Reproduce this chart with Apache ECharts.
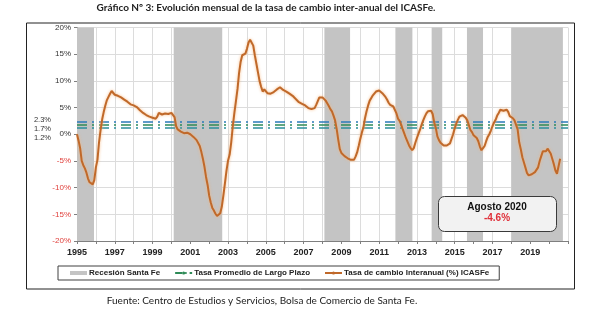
<!DOCTYPE html>
<html>
<head>
<meta charset="utf-8">
<script src="https://cdn.jsdelivr.net/npm/echarts@6/dist/echarts.min.js"></script>
<style>
html,body{margin:0;padding:0;background:#fff;}
#chart{width:592px;height:322px;}
</style>
</head>
<body>
<div id="chart"></div>
<script>
// ---- Data ----
const titleText = 'Gráfico Nº 3: Evolución mensual de la tasa de cambio inter-anual del ICASFe.';
const sourceText = 'Fuente: Centro de Estudios y Servicios, Bolsa de Comercio de Santa Fe.';
const startYear = 1995;
const endYear = 2021;
const avgLabels = ['2.3%', '1.7%', '1.2%'];
const avgRates = [2.3, 1.7, 1.2];
const recessionStart = [1995.0, 2000.12, 2008.1, 2011.86, 2013.78, 2015.65, 2018.0];
const recessionEnd   = [1995.9, 2002.69, 2009.46, 2012.76, 2014.34, 2016.5, 2020.73];
const lastLabel = 'Agosto 2020';
// Monthly inter-annual change (%), Jan 1995 .. Aug 2020
const icasfe = [
  0.0,-1.2,-2.6,-5.0,-5.8,-6.4,-7.2,-8.3,-9.0,-9.3,-9.4,-8.6,
  -6.2,-4.8,-1.5,0.8,2.8,4.2,5.4,6.4,7.0,7.6,8.1,7.8,
  7.4,7.6,7.2,7.0,6.9,7.0,6.5,6.4,6.1,6.0,5.6,5.7,
  5.4,5.5,5.1,5.0,4.5,4.2,4.0,3.9,3.6,3.3,3.3,3.1,
  3.1,2.8,2.9,3.3,4.0,3.8,3.7,3.8,3.9,3.9,3.8,3.9,
  4.0,4.0,3.2,1.5,0.9,0.6,0.5,0.4,0.2,0.1,0.3,0.4,
  0.0,-0.2,-0.5,-0.8,-1.1,-1.4,-2.2,-3.3,-4.6,-6.1,-8.0,-9.5,
  -11.5,-12.8,-13.8,-14.3,-14.9,-15.3,-15.5,-14.8,-13.6,-11.5,-9.2,-6.8,
  -4.9,-3.8,-1.5,1.5,4.0,6.2,8.5,11.5,13.6,14.8,15.0,15.1,
  16.0,17.2,17.7,17.4,16.6,14.8,13.2,11.6,10.0,8.9,8.0,8.4,
  8.5,7.7,7.5,7.6,7.7,7.9,8.1,8.4,8.7,8.8,8.8,8.3,
  8.0,8.0,7.8,7.6,7.4,7.2,6.9,6.6,6.3,6.0,5.8,5.7,
  5.6,5.4,5.1,4.9,4.8,4.7,4.8,4.9,5.5,6.2,6.9,7.2,
  6.9,6.6,6.3,5.8,5.3,4.7,4.3,3.5,2.6,1.0,-1.0,-2.8,
  -3.5,-3.8,-4.1,-4.3,-4.5,-4.7,-4.8,-4.9,-4.8,-4.2,-3.4,-2.2,
  -0.9,0.3,1.3,3.0,4.3,5.4,6.3,6.8,7.3,7.6,8.0,8.3,
  8.2,8.0,7.7,7.4,7.0,6.5,5.9,5.5,5.3,5.2,4.9,3.9,
  2.9,2.5,1.8,0.9,0.1,-0.7,-1.4,-2.1,-2.6,-3.0,-2.6,-1.6,
  -0.7,0.1,0.9,1.8,2.6,3.3,3.9,4.3,4.6,4.4,3.8,2.2,
  1.2,-0.4,-1.1,-1.6,-1.8,-2.1,-2.3,-2.1,-2.0,-1.7,-1.8,0.0,
  1.1,2.0,2.7,3.3,3.5,3.6,3.5,3.1,2.6,1.7,0.8,0.4,
  -0.2,-0.4,-0.7,-1.3,-2.3,-3.0,-2.6,-2.2,-1.3,-0.5,0.0,0.7,
  1.5,2.2,2.7,3.5,4.0,4.6,4.6,4.4,4.5,4.6,4.2,3.4,
  3.1,3.0,2.6,2.5,0.9,-1.5,-2.8,-4.3,-5.3,-6.3,-7.3,-7.7,
  -7.6,-7.5,-7.5,-7.1,-6.8,-6.2,-5.0,-4.1,-3.2,-3.0,-3.2,-2.7,
  -2.9,-3.6,-4.6,-5.6,-6.8,-7.4,-6.0,-4.6
];
const seriesNames = ['Recesión Santa Fe', 'Tasa Promedio de Largo Plazo', 'Tasa de cambio Interanual (%) ICASFe'];

// ---- Build ----
const lineData = icasfe.map((v, i) => [startYear + i / 12, v]);
const avgColors = ['#2b7bb9', '#2e8b57', '#2a8f9c'];
const chart = echarts.init(document.getElementById('chart'), null, {renderer: 'canvas'});
const FONT = 'Liberation Sans';
const lastVal = icasfe[icasfe.length - 1];

const option = {
  animation: false,
  backgroundColor: '#ffffff',
  grid: {left: 77, right: 24, top: 27.5, bottom: 81, containLabel: false},
  xAxis: [{
    type: 'value', min: startYear, max: endYear, interval: 1,
    axisLine: {show: false}, axisTick: {show: false},
    splitLine: {show: true, lineStyle: {color: '#dcdcdc', width: 1}},
    axisLabel: {
      margin: 7, fontFamily: FONT, fontWeight: 'bold', fontSize: 9, color: '#222',
      formatter: v => ((v - startYear) % 2 === 0 && v < endYear) ? String(v) : ''
    }
  }, {
    type: 'value', min: startYear, max: endYear, interval: 1, position: 'bottom',
    axisLine: {show: true, onZero: true, lineStyle: {color: '#7f7f7f', width: 1}},
    axisTick: {show: true, length: 3, lineStyle: {color: '#7f7f7f'}},
    axisLabel: {show: false}, splitLine: {show: false}
  }],
  yAxis: {
    type: 'value', min: -20, max: 20, interval: 5,
    axisLine: {show: true, lineStyle: {color: '#7f7f7f'}},
    axisTick: {show: true, length: 3, lineStyle: {color: '#7f7f7f'}},
    splitLine: {show: true, lineStyle: {color: '#dcdcdc'}},
    axisLabel: {
      margin: 6, fontFamily: FONT, fontSize: 8,
      formatter: v => v + '%',
      color: v => (Number(v) < 0 ? '#e0403c' : '#333')
    }
  },
  legend: {
    left: 58, top: 266, width: 441,
    padding: [3, 10, 3, 12], itemGap: 14, itemWidth: 17, itemHeight: 4,
    borderColor: '#404040', borderWidth: 1,
    textStyle: {fontFamily: FONT, fontSize: 8, fontWeight: 'bold', color: '#222', padding: [0, 0, 0, -3]},
    data: [
      {name: seriesNames[0], icon: 'rect', itemStyle: {color: '#c4c4c4'}},
      {name: seriesNames[1]},
      {name: seriesNames[2]}
    ]
  },
  series: [{
    name: seriesNames[0], type: 'line', data: [],
    itemStyle: {color: '#c4c4c4'}, lineStyle: {color: '#c4c4c4'},
    markArea: {
      silent: true,
      itemStyle: {color: '#c4c4c4'},
      data: recessionStart.map((s, i) => [{xAxis: s}, {xAxis: recessionEnd[i]}])
    }
  }, {
    name: seriesNames[1], type: 'line', data: [], symbol: 'none',
    itemStyle: {color: '#2e8b57'},
    lineStyle: {color: '#2e8b57', width: 1.5, type: [7, 3, 1.5, 3]},
    markLine: {
      silent: true, symbol: 'none', label: {show: false},
      data: avgRates.map((r, i) => ({yAxis: r, lineStyle: {color: avgColors[i], width: 1.6, type: [10, 5, 2, 5]}}))
    }
  }, {
    name: seriesNames[2], type: 'line', data: lineData, symbol: 'none', z: 5,
    itemStyle: {color: '#c0692a'},
    lineStyle: {color: '#c0692a', width: 2, shadowColor: 'rgba(247,180,120,0.9)', shadowBlur: 3}
  }],
  graphic: [
    {type: 'rect', left: 24, top: 20.5, shape: {width: 548, height: 266}, style: {fill: 'none', stroke: '#222', lineWidth: 1}, z: 0, silent: true},
    {type: 'text', x: 266, y: 8, style: {text: titleText, font: 'bold 10px Lato', fill: '#222', align: 'center', verticalAlign: 'middle'}},
    {type: 'text', x: 262, y: 301, style: {text: sourceText, font: '10px Lato', fill: '#222', align: 'center', verticalAlign: 'middle'}},
    {type: 'text', x: 51, y: 119.5, style: {text: avgLabels[0], font: '7.5px "Liberation Sans"', fill: '#333', align: 'right', verticalAlign: 'middle'}},
    {type: 'text', x: 51, y: 129, style: {text: avgLabels[1], font: '7.5px "Liberation Sans"', fill: '#333', align: 'right', verticalAlign: 'middle'}},
    {type: 'text', x: 51, y: 137.5, style: {text: avgLabels[2], font: '7.5px "Liberation Sans"', fill: '#333', align: 'right', verticalAlign: 'middle'}},
    {type: 'rect', left: 438, top: 196, z: 50, shape: {width: 118, height: 35, r: 6}, style: {fill: '#f2f2f2', stroke: '#3a3a3a', lineWidth: 1}},
    {type: 'text', x: 497, y: 207.5, z: 51, style: {text: lastLabel, font: 'bold 10px "Liberation Sans"', fill: '#111', align: 'center', verticalAlign: 'middle'}},
    {type: 'text', x: 497, y: 218.5, z: 51, style: {text: lastVal.toFixed(1) + '%', font: 'bold 10px "Liberation Sans"', fill: '#e0303a', align: 'center', verticalAlign: 'middle'}}
  ]
};
chart.setOption(option);
</script>
</body>
</html>
